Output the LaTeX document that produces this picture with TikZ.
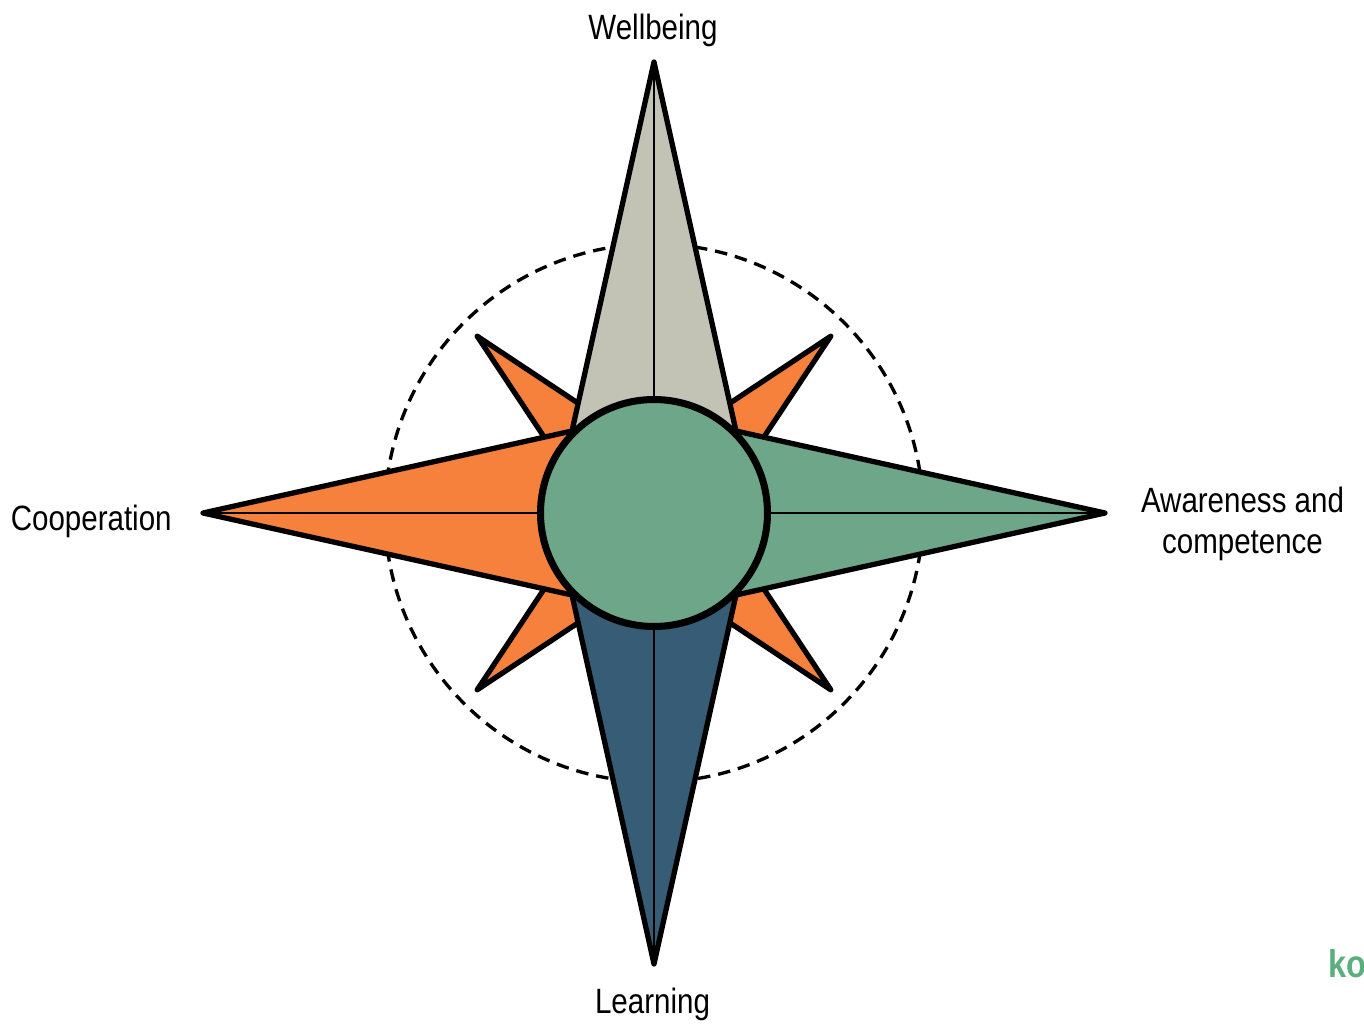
\documentclass[tikz,border=0pt]{standalone}
\usepackage{fontspec}
\setmainfont{Liberation Sans}[FakeStretch=0.84]
\usepackage{tikz}
\usepackage{xcolor}
\usetikzlibrary{positioning}
\definecolor{ink}{HTML}{000000}
\definecolor{wellgray}{HTML}{C2C3B4}
\definecolor{coopoarnge}{HTML}{F5813C}
\definecolor{awaregreen}{HTML}{6EA68A}
\definecolor{learnblue}{HTML}{365D75}
\definecolor{logogreen}{HTML}{5BAF7D}
\tikzset{
  arm/.style={draw=ink,line width=3pt,line join=round},
  spine/.style={draw=ink,line width=0.8pt},
  ray/.style={draw=ink,fill=coopoarnge,line width=3pt,line join=round},
  hub/.style={circle,draw=ink,fill=awaregreen,line width=4pt,
              minimum size=4.54cm,inner sep=0pt},
  ring/.style={draw=ink,line width=1.9pt,dash pattern=on 0.25cm off 0.16cm},
  pointlabel/.style={font=\fontsize{20}{23}\selectfont,align=center,
                     inner sep=0pt},
  logo/.style={font=\fontsize{22}{24}\bfseries,text=logogreen,inner sep=0pt}
}

\begin{document}
\begin{tikzpicture}[x=1cm,y=1cm]
    \path[use as bounding box] (-13.08,-10.28) rectangle (14.20,10.26);

    % dashed ring behind the rose
    \draw[ring] (0,0) circle (5.38);

    % small diagonal points
    \foreach \ang in {45,135,225,315}
      \draw[ray,rotate=\ang] (5.0,0) -- (1.64,0.68) -- (0,0)
        -- (1.64,-0.68) -- cycle;

    % main points
    \foreach \ang/\col in {90/wellgray,180/coopoarnge,0/awaregreen,270/learnblue}{
      \draw[arm,fill=\col,rotate=\ang] (9.02,0) -- (1.64,1.64) -- (0,0)
        -- (1.64,-1.64) -- cycle;
      \draw[spine,rotate=\ang] (9.02,0) -- (0,0);
    }

    \node[hub] (hub) at (0,0) {};

    \node[pointlabel,anchor=base] (wellbeing) at (-0.02,9.46) {Wellbeing};
    \node[pointlabel,anchor=base east] (cooperation) at (-9.64,-0.34)
      {Cooperation};
    \node[pointlabel,anchor=base] (awareness) at (11.77,-0.80)
      {Awareness and\\competence};
    \node[pointlabel,anchor=base] (learning) at (-0.03,-10.00) {Learning};

    \node[logo,anchor=base west] (brand) at (13.48,-9.28) {ko};
  \end{tikzpicture}
\end{document}
